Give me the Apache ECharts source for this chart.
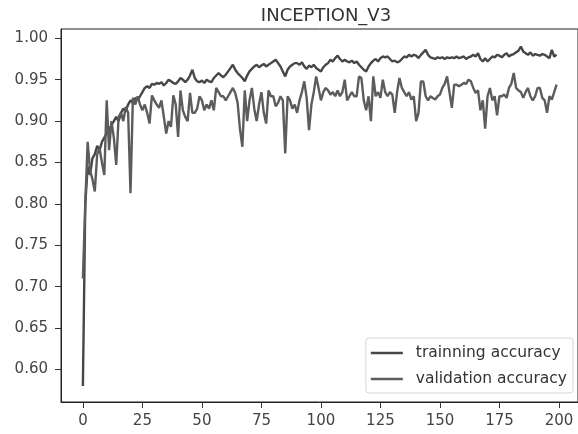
<!DOCTYPE html>
<html>
<head>
<meta charset="utf-8">
<script src="https://cdn.jsdelivr.net/npm/echarts@6/dist/echarts.min.js"></script>
<style>html,body{margin:0;padding:0;background:#fff}#c{width:578px;height:434px}</style>
</head>
<body>
<div id="c"></div>
<script>
const title = "INCEPTION_V3";
const seriesNames = ["trainning accuracy", "validation accuracy"];
const xTicks = [0, 25, 50, 75, 100, 125, 150, 175, 200];
const yTicks = [0.60, 0.65, 0.70, 0.75, 0.80, 0.85, 0.90, 0.95, 1.00];
const training = [
0.58,0.80,0.845,0.835,0.855,0.86,0.87,0.865,0.875,0.88,
0.885,0.89,0.895,0.90,0.905,0.90,0.91,0.915,0.912,0.92,
0.925,0.922,0.928,0.925,0.93,0.935,0.94,0.942,0.94,0.945,
0.944,0.946,0.945,0.947,0.943,0.946,0.95,0.948,0.946,0.945,
0.948,0.952,0.95,0.947,0.95,0.955,0.962,0.952,0.948,0.947,
0.949,0.946,0.95,0.948,0.947,0.952,0.955,0.958,0.955,0.953,
0.956,0.96,0.964,0.968,0.962,0.958,0.955,0.952,0.948,0.955,
0.96,0.963,0.966,0.968,0.965,0.967,0.969,0.966,0.968,0.97,
0.972,0.974,0.97,0.966,0.96,0.954,0.962,0.966,0.968,0.97,
0.97,0.968,0.971,0.966,0.963,0.967,0.965,0.968,0.964,0.962,
0.96,0.965,0.968,0.97,0.974,0.972,0.976,0.979,0.975,0.972,
0.974,0.972,0.971,0.973,0.97,0.972,0.968,0.965,0.962,0.96,
0.966,0.97,0.973,0.975,0.972,0.976,0.978,0.977,0.978,0.975,
0.972,0.973,0.971,0.972,0.975,0.978,0.977,0.98,0.978,0.98,
0.979,0.976,0.98,0.983,0.986,0.98,0.977,0.976,0.975,0.977,
0.976,0.977,0.975,0.977,0.976,0.977,0.976,0.978,0.976,0.977,
0.978,0.975,0.977,0.978,0.98,0.978,0.982,0.975,0.972,0.976,
0.972,0.975,0.978,0.977,0.98,0.979,0.977,0.98,0.982,0.978,
0.98,0.981,0.983,0.985,0.99,0.984,0.982,0.98,0.983,0.979,
0.981,0.98,0.979,0.981,0.98,0.978,0.976,0.986,0.978,0.98
];
const validation = [
0.71,0.80,0.875,0.84,0.83,0.815,0.86,0.867,0.85,0.835,
0.925,0.865,0.90,0.88,0.847,0.905,0.91,0.90,0.917,0.91,
0.813,0.928,0.92,0.93,0.92,0.913,0.92,0.91,0.897,0.931,
0.925,0.92,0.916,0.925,0.905,0.885,0.90,0.893,0.931,0.92,
0.881,0.937,0.913,0.905,0.90,0.934,0.91,0.91,0.915,0.93,
0.925,0.913,0.92,0.915,0.925,0.913,0.94,0.935,0.93,0.93,
0.925,0.93,0.935,0.94,0.934,0.922,0.89,0.869,0.937,0.90,
0.925,0.94,0.915,0.90,0.92,0.935,0.91,0.897,0.937,0.93,
0.93,0.918,0.922,0.93,0.925,0.861,0.93,0.925,0.915,0.92,
0.91,0.925,0.935,0.948,0.928,0.889,0.92,0.935,0.954,0.94,
0.925,0.935,0.94,0.937,0.932,0.935,0.93,0.937,0.93,0.935,
0.95,0.925,0.93,0.935,0.93,0.93,0.954,0.952,0.925,0.913,
0.93,0.90,0.954,0.93,0.935,0.928,0.95,0.935,0.93,0.935,
0.932,0.91,0.935,0.952,0.94,0.935,0.93,0.935,0.926,0.93,
0.90,0.91,0.948,0.948,0.93,0.925,0.93,0.928,0.926,0.93,
0.932,0.94,0.945,0.954,0.935,0.916,0.944,0.944,0.942,0.944,
0.946,0.945,0.95,0.948,0.94,0.934,0.937,0.913,0.925,0.891,
0.93,0.94,0.925,0.93,0.907,0.93,0.93,0.932,0.928,0.94,
0.945,0.958,0.94,0.937,0.935,0.928,0.935,0.94,0.93,0.925,
0.93,0.94,0.94,0.928,0.925,0.91,0.93,0.926,0.935,0.944
];

const chart = echarts.init(document.getElementById('c'), null, {renderer: 'canvas'});
const font = 'DejaVu Sans';
const pairs = arr => arr.map((v, i) => [i, v]);
chart.setOption({
  animation: false,
  backgroundColor: '#fff',
  title: {
    text: title, left: 321, top: 2, textAlign: 'center',
    textStyle: {fontFamily: font, fontSize: 18, fontWeight: 'normal', color: '#333'}
  },
  grid: {left: 61, top: 29, right: -1, bottom: 32, show: true, borderColor: '#222', borderWidth: 1, backgroundColor: 'transparent'},
  legend: {
    orient: 'vertical', right: 5, bottom: 41,
    data: seriesNames,
    icon: 'rect',
    itemWidth: 32, itemHeight: 2.5, itemGap: 8,
    padding: [6, 6, 5, 5],
    backgroundColor: '#fff', borderColor: '#d5d5d5', borderWidth: 1, borderRadius: 3,
    textStyle: {fontFamily: font, fontSize: 15.5, lineHeight: 18, color: '#333', padding: [0, 0, 0, 8]}
  },
  xAxis: {
    type: 'value', min: -9.2, max: 208,
    axisLine: {show: true, onZero: false, lineStyle: {color: '#222'}},
    axisTick: {show: true, length: 6, lineStyle: {color: '#333'}, customValues: xTicks},
    axisLabel: {fontFamily: font, fontSize: 15, color: '#444', margin: 12, customValues: xTicks},
    splitLine: {show: false}
  },
  yAxis: {
    type: 'value', min: 0.5608, max: 1.0112,
    axisLine: {show: true, onZero: false, lineStyle: {color: '#222'}},
    axisTick: {show: true, length: 6, lineStyle: {color: '#333'}, customValues: yTicks},
    axisLabel: {fontFamily: font, fontSize: 15, color: '#444', margin: 13, customValues: yTicks, formatter: v => v.toFixed(2)},
    splitLine: {show: false}
  },
  series: [
    {name: seriesNames[0], type: 'line', data: pairs(training), symbol: 'none', showSymbol: false,
     lineStyle: {color: '#474747', width: 2.4}, itemStyle: {color: '#474747'}},
    {name: seriesNames[1], type: 'line', data: pairs(validation), symbol: 'none', showSymbol: false,
     lineStyle: {color: '#5c5c5c', width: 2.4}, itemStyle: {color: '#5c5c5c'}}
  ]
});
</script>
</body>
</html>
